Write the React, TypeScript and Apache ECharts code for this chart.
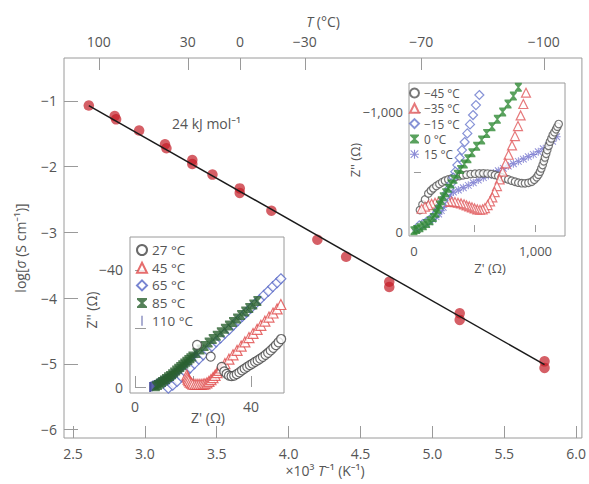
import React, { useEffect, useRef } from "react";
import * as echarts from "echarts";

// ---------- main Arrhenius plot ----------
const MAIN_X_TICKS = [2.5, 3.0, 3.5, 4.0, 4.5, 5.0, 5.5, 6.0];
const MAIN_Y_TICKS = [-6, -5, -4, -3, -2, -1];
const TOP_T = [100, 30, 0, -30, -70, -100];

const MAIN_X = [2.61, 2.79, 2.8, 2.96, 3.14, 3.15, 3.33, 3.33, 3.47, 3.66, 3.66, 3.88, 4.2, 4.4, 4.7, 4.7, 5.19, 5.19, 5.78, 5.78];
const MAIN_Y = [-1.07, -1.23, -1.28, -1.45, -1.66, -1.72, -1.9, -1.96, -2.12, -2.33, -2.4, -2.67, -3.11, -3.37, -3.75, -3.83, -4.23, -4.33, -4.96, -5.06];
const FIT_X = [2.61, 5.78];
const FIT_Y = [-1.07, -5.01];

// ---------- inset 1 (low temperatures), ohm ----------
const I1_X_TICKS = [0, 500, 1000];
const I1_X_LABELS = [0, 1000];
const I1_Y_TICKS = [0, -500, -1000];
const I1_Y_LABELS = [0, -1000];

const M45_X = [49, 70, 91, 118, 139, 159, 184, 209, 232, 255, 282, 310, 341, 373, 403, 433, 467, 502, 537, 571, 605, 639, 667, 694, 722, 749, 776, 804, 832, 859, 887, 914, 942, 969, 990, 1010, 1024, 1037, 1048, 1059, 1069, 1078, 1088, 1097, 1108, 1119, 1131, 1142, 1156, 1169, 1180, 1191];
const M45_Y = [-183, -230, -272, -322, -345, -364, -384, -400, -415, -428, -438, -447, -458, -467, -473, -478, -483, -486, -488, -489, -487, -483, -476, -467, -457, -447, -438, -428, -419, -411, -407, -406, -410, -419, -435, -456, -478, -503, -530, -558, -590, -622, -652, -683, -718, -753, -780, -808, -832, -856, -878, -900];

const M35_X = [922, 900, 878, 856, 831, 807, 779, 754, 730, 705, 683, 664, 645, 626, 606, 584, 565, 543, 521, 499, 477, 455, 433, 412, 387, 362, 337, 310, 283, 255, 228, 200, 173, 145, 118, 91, 63];
const M35_Y = [-1161, -1067, -972, -883, -800, -722, -644, -572, -503, -439, -383, -333, -289, -256, -225, -200, -189, -186, -189, -197, -206, -214, -222, -231, -239, -244, -250, -253, -256, -256, -253, -250, -244, -236, -225, -211, -194];

const M15_X = [538, 510, 486, 461, 439, 417, 395, 376, 357, 340, 324, 307, 291, 274, 258, 241, 225, 208, 192, 173, 151, 126, 99, 71, 44];
const M15_Y = [-1142, -1058, -975, -897, -822, -750, -683, -619, -558, -503, -453, -406, -364, -328, -294, -261, -228, -194, -167, -142, -119, -100, -81, -67, -56];

const Z0_X = [859, 818, 774, 730, 686, 642, 598, 557, 516, 477, 444, 414, 384, 357, 329, 305, 283, 261, 241, 225, 211, 198, 181, 159, 132, 104, 77, 49, 22, 0];
const Z0_Y = [-1206, -1133, -1067, -1000, -939, -878, -822, -767, -714, -661, -611, -567, -522, -481, -439, -400, -364, -328, -294, -261, -225, -189, -156, -122, -94, -72, -53, -36, -22, -11];

const P15_X = [1174, 1141, 1106, 1064, 1023, 982, 941, 900, 859, 818, 776, 735, 694, 653, 612, 571, 529, 488, 447, 406, 365, 324, 296, 274, 258, 241, 225, 203, 181, 154, 126, 99, 71, 44, 16];
const P15_Y = [-794, -756, -722, -694, -669, -647, -628, -608, -589, -569, -550, -531, -511, -492, -472, -453, -433, -411, -389, -369, -350, -333, -308, -272, -239, -206, -178, -150, -128, -106, -86, -67, -50, -33, -17];

// ---------- inset 2 (high temperatures), ohm ----------
const I2_X_TICKS = [0, 20, 40];
const I2_X_LABELS = [0, 40];
const I2_Y_TICKS = [0, -20, -40];
const I2_Y_LABELS = [0, -40];

const T27_X = [21.4, 26.1, 29.9, 30.8, 31.6, 32.4, 33.3, 34.2, 35.1, 36.0, 36.9, 37.8, 38.7, 39.6, 40.5, 41.4, 42.3, 43.2, 44.1, 45.0, 45.9, 46.8, 47.7, 48.6, 49.5, 50.4];
const T27_Y = [-14.4, -10.4, -6.9, -5.3, -4.5, -3.9, -3.7, -3.9, -4.4, -5.0, -5.7, -6.3, -6.9, -7.5, -8.0, -8.6, -9.1, -9.7, -10.3, -11.0, -11.7, -12.5, -13.4, -14.3, -15.3, -16.4];

const T45_X = [17.9, 18.1, 18.3, 18.6, 19.0, 19.5, 20.0, 20.7, 21.4, 22.1, 22.8, 23.5, 24.1, 24.8, 25.5, 26.2, 26.9, 27.6, 28.3, 29.0, 29.7, 31.0, 32.4, 33.8, 35.2, 36.6, 37.9, 39.3, 40.7, 42.1, 43.4, 44.8, 46.2, 47.6, 49.0, 50.3];
const T45_Y = [-4.1, -3.4, -2.7, -2.2, -1.7, -1.3, -1.0, -0.9, -0.9, -0.9, -0.9, -1.0, -1.1, -1.4, -1.9, -2.5, -3.2, -4.0, -4.9, -5.7, -6.5, -8.0, -9.5, -11.0, -12.5, -14.0, -15.4, -16.9, -18.3, -19.7, -21.1, -22.5, -23.9, -25.3, -26.7, -28.2];

const T65_X = [11.5, 13.0, 14.5, 16.0, 17.5, 19.0, 20.5, 22.0, 23.5, 25.0, 26.5, 28.0, 29.5, 31.0, 32.5, 34.0, 35.5, 37.0, 38.5, 40.0, 41.5, 43.0, 44.5, 46.0, 47.5, 49.0, 50.3];
const T65_Y = [0.4, -0.6, -1.9, -3.5, -5.0, -6.5, -8.0, -9.5, -11.0, -12.5, -13.9, -15.4, -16.8, -18.3, -19.7, -21.2, -22.7, -24.1, -25.6, -27.0, -28.5, -29.9, -31.4, -32.8, -34.3, -35.7, -37.0];

const T85_X = [7.2, 7.9, 8.6, 9.3, 10.0, 10.7, 11.4, 12.1, 12.8, 13.5, 14.2, 14.9, 15.6, 16.3, 17.0, 17.7, 18.4, 19.1, 19.8, 21.2, 22.6, 24.0, 25.4, 26.8, 28.2, 29.6, 31.0, 32.4, 33.8, 35.2, 36.6, 38.0, 39.4, 40.8, 42.2];
const T85_Y = [-0.3, -0.7, -1.2, -1.7, -2.2, -2.7, -3.3, -3.8, -4.4, -5.0, -5.6, -6.2, -6.8, -7.4, -8.0, -8.6, -9.2, -9.8, -10.4, -11.6, -12.8, -14.0, -15.2, -16.4, -17.5, -18.7, -19.9, -21.0, -22.2, -23.4, -24.6, -25.8, -27.0, -28.2, -29.4];

const T110_X = [5.2, 5.7, 6.3, 6.9, 7.5, 8.0, 8.6, 9.2, 9.8, 10.4, 11.0, 11.5, 12.1, 12.7, 13.3, 13.8, 14.4, 15.0, 15.6, 16.1, 16.7, 17.3, 17.9, 18.4, 19.0, 19.6, 20.2, 20.7, 21.3];
const T110_Y = [0.0, -0.2, -0.5, -0.7, -1.0, -1.3, -1.6, -1.9, -2.2, -2.5, -2.8, -3.1, -3.5, -3.9, -4.3, -4.7, -5.2, -5.6, -6.0, -6.4, -6.9, -7.4, -7.9, -8.4, -9.0, -9.5, -10.1, -10.7, -11.3];

// ---------- helpers ----------
const zip = (xs: number[], ys: number[]) => xs.map((x, i) => [x, ys[i]]);
const minus = (s: string) => s.replace("-", "\u2212");
const thousands = (v: number) =>
  v === 0 ? "0" : (v < 0 ? "\u2212" : "") + Math.abs(v).toLocaleString("en-US");

const FONT = "'Open Sans', 'Noto Sans', sans-serif";
const TXT = "#555";
const FRAME = "#9a9a9a";

const HOURGLASS = "path://M0,0L10,0L10,1.6L6.2,5L10,8.4L10,10L0,10L0,8.4L3.8,5L0,1.6Z";
const ASTERISK =
  "path://M4.4,0H5.6V10H4.4Z M0,4.4H10V5.6H0Z M1.2,0.4L9.6,8.8L8.8,9.6L0.4,1.2Z M8.8,0.4L9.6,1.2L1.2,9.6L0.4,8.8Z";
const BAR = "path://M0,0H1V10H0Z";

function buildOption() {
  const labelStyle = (size: number) => ({ color: TXT, fontSize: size, fontFamily: FONT });
  const hollow = (c: string) => ({ color: "#fff", borderColor: c, borderWidth: 1.2 });
  const italic = { i: { fontStyle: "italic", fontSize: 14, fill: TXT, fontFamily: FONT } };

  return {
    animation: false,
    backgroundColor: "#fff",
    textStyle: { fontFamily: FONT },
    grid: [
      { left: 64, top: 58, width: 519, height: 380, show: true, borderColor: FRAME, borderWidth: 1, backgroundColor: "transparent" },
      { left: 409, top: 83, width: 156, height: 153, show: true, borderColor: FRAME, borderWidth: 1, backgroundColor: "#fff" },
      { left: 130, top: 237, width: 154, height: 156, show: true, borderColor: FRAME, borderWidth: 1, backgroundColor: "#fff" },
    ],
    xAxis: [
      {
        type: "value", gridIndex: 0, position: "bottom", min: 2.4375, max: 6.04,
        axisLine: { show: false }, splitLine: { show: false },
        axisTick: { inside: true, length: 12, lineStyle: { color: FRAME }, customValues: MAIN_X_TICKS },
        axisLabel: { ...labelStyle(14), margin: 8, customValues: MAIN_X_TICKS, formatter: (v: number) => v.toFixed(1) },
      },
      {
        type: "value", gridIndex: 0, position: "top", min: 2.4375, max: 6.04,
        axisLine: { show: false }, splitLine: { show: false },
        axisTick: { inside: true, length: 12, lineStyle: { color: FRAME }, customValues: TOP_T.map((t) => 1000 / (t + 273.15)) },
        axisLabel: {
          ...labelStyle(14), margin: 10,
          customValues: TOP_T.map((t) => 1000 / (t + 273.15)),
          formatter: (v: number) => minus(String(Math.round(1000 / v - 273.15))),
        },
      },
      {
        type: "value", gridIndex: 1, min: -41, max: 1243,
        axisLine: { show: false }, splitLine: { show: false },
        axisTick: { inside: true, length: 7, lineStyle: { color: FRAME }, customValues: I1_X_TICKS },
        axisLabel: { ...labelStyle(13), margin: 8, customValues: I1_X_LABELS, formatter: thousands },
      },
      {
        type: "value", gridIndex: 2, min: -1.72, max: 51.38,
        axisLine: { show: false }, splitLine: { show: false },
        axisTick: { inside: true, length: 11, lineStyle: { color: FRAME }, customValues: I2_X_TICKS },
        axisLabel: { ...labelStyle(14), margin: 6, customValues: I2_X_LABELS, formatter: thousands },
      },
    ],
    yAxis: [
      {
        type: "value", gridIndex: 0, min: -6.126, max: -0.347,
        axisLine: { show: false }, splitLine: { show: false },
        axisTick: { inside: true, length: 14, lineStyle: { color: FRAME }, customValues: MAIN_Y_TICKS },
        axisLabel: { ...labelStyle(14), margin: 7, customValues: MAIN_Y_TICKS, formatter: (v: number) => minus(String(v)) },
      },
      {
        type: "value", gridIndex: 1, inverse: true, min: -1242, max: 33,
        axisLine: { show: false }, splitLine: { show: false },
        axisTick: { inside: true, length: 7, lineStyle: { color: FRAME }, customValues: I1_Y_TICKS },
        axisLabel: { ...labelStyle(13), margin: 6, customValues: I1_Y_LABELS, formatter: thousands },
      },
      {
        type: "value", gridIndex: 2, inverse: true, min: -51.28, max: 2.05,
        axisLine: { show: false }, splitLine: { show: false },
        axisTick: { inside: true, length: 11, lineStyle: { color: FRAME }, customValues: I2_Y_TICKS },
        axisLabel: { ...labelStyle(14), margin: 7, customValues: I2_Y_LABELS, formatter: thousands },
      },
    ],
    legend: [
      {
        left: 409, top: 87, orient: "vertical", padding: 0, itemGap: 3.3, itemWidth: 9, itemHeight: 9,
        textStyle: { color: TXT, fontSize: 11.8, fontFamily: FONT, lineHeight: 11 },
        data: ["\u221245 \u00b0C", "\u221235 \u00b0C", "\u221215 \u00b0C", "0 \u00b0C", "15 \u00b0C"],
      },
      {
        left: 136, top: 243, orient: "vertical", padding: 0, itemGap: 3.7, itemWidth: 10, itemHeight: 10,
        textStyle: { color: TXT, fontSize: 13.5, fontFamily: FONT, lineHeight: 13 },
        data: ["27 \u00b0C", "45 \u00b0C", "65 \u00b0C", "85 \u00b0C", "110 \u00b0C"],
      },
    ],
    series: [
      // main
      {
        type: "scatter", xAxisIndex: 0, yAxisIndex: 0, symbolSize: 10.5,
        itemStyle: { color: "rgba(196,28,38,0.88)" }, data: zip(MAIN_X, MAIN_Y), z: 2,
      },
      {
        type: "line", xAxisIndex: 0, yAxisIndex: 0, showSymbol: false, symbol: "none",
        lineStyle: { color: "#1a1a1a", width: 1.5 }, data: zip(FIT_X, FIT_Y), z: 3,
      },
      // inset 1
      {
        name: "15 \u00b0C", type: "scatter", xAxisIndex: 2, yAxisIndex: 1, symbol: ASTERISK, symbolSize: 8,
        itemStyle: { color: "#7070cc" }, data: zip(P15_X, P15_Y),
      },
      {
        name: "\u221245 \u00b0C", type: "scatter", xAxisIndex: 2, yAxisIndex: 1, symbol: "circle", symbolSize: 7.5,
        itemStyle: hollow("#555"), data: zip(M45_X, M45_Y),
      },
      {
        name: "\u221235 \u00b0C", type: "scatter", xAxisIndex: 2, yAxisIndex: 1, symbol: "triangle", symbolSize: 9,
        itemStyle: hollow("#e0575a"), data: zip(M35_X, M35_Y),
      },
      {
        name: "\u221215 \u00b0C", type: "scatter", xAxisIndex: 2, yAxisIndex: 1, symbol: "diamond", symbolSize: 9,
        itemStyle: hollow("#6877cc"), data: zip(M15_X, M15_Y),
      },
      {
        name: "0 \u00b0C", type: "scatter", xAxisIndex: 2, yAxisIndex: 1, symbol: HOURGLASS, symbolSize: [7, 9],
        itemStyle: { color: "#2f8a35" }, data: zip(Z0_X, Z0_Y),
      },
      // inset 2
      {
        name: "110 \u00b0C", type: "scatter", xAxisIndex: 3, yAxisIndex: 2, symbol: BAR, symbolSize: [2, 10],
        itemStyle: { color: "#2d3590" }, data: zip(T110_X, T110_Y),
      },
      {
        name: "65 \u00b0C", type: "scatter", xAxisIndex: 3, yAxisIndex: 2, symbol: "diamond", symbolSize: 10,
        itemStyle: hollow("#5565c5"), data: zip(T65_X, T65_Y),
      },
      {
        name: "85 \u00b0C", type: "scatter", xAxisIndex: 3, yAxisIndex: 2, symbol: HOURGLASS, symbolSize: [8, 10],
        itemStyle: { color: "#2a6130" }, data: zip(T85_X, T85_Y),
      },
      {
        name: "45 \u00b0C", type: "scatter", xAxisIndex: 3, yAxisIndex: 2, symbol: "triangle", symbolSize: 10,
        itemStyle: hollow("#e04848"), data: zip(T45_X, T45_Y),
      },
      {
        name: "27 \u00b0C", type: "scatter", xAxisIndex: 3, yAxisIndex: 2, symbol: "circle", symbolSize: 9,
        itemStyle: hollow("#444"), data: zip(T27_X, T27_Y),
      },
    ],
    graphic: [
      {
        type: "text", x: 323, y: 21,
        style: {
          text: "{i|T} (\u00b0C)", fill: TXT, font: `14px ${FONT}`, align: "center", verticalAlign: "middle", rich: italic,
        },
      },
      {
        type: "text", x: 325, y: 470,
        style: {
          text: "\u00d710\u00b3 {i|T}\u207b\u00b9 (K\u207b\u00b9)", fill: TXT, font: `14px ${FONT}`, align: "center", verticalAlign: "middle", rich: italic,
        },
      },
      {
        type: "text", x: 20, y: 248, rotation: Math.PI / 2,
        style: {
          text: "log[{i|\u03c3} (S cm\u207b\u00b9)]", fill: TXT, font: `14px ${FONT}`, align: "center", verticalAlign: "middle", rich: italic,
        },
      },
      {
        type: "text", x: 172, y: 123,
        style: { text: "24 kJ mol\u207b\u00b9", fill: TXT, font: `14px ${FONT}`, align: "left", verticalAlign: "middle" },
      },
      {
        type: "text", x: 355, y: 160, rotation: Math.PI / 2,
        style: { text: "Z'' (\u03a9)", fill: TXT, font: `13px ${FONT}`, align: "center", verticalAlign: "middle" },
      },
      {
        type: "text", x: 490, y: 268,
        style: { text: "Z' (\u03a9)", fill: TXT, font: `13px ${FONT}`, align: "center", verticalAlign: "middle" },
      },
      {
        type: "text", x: 91, y: 310, rotation: Math.PI / 2,
        style: { text: "Z'' (\u03a9)", fill: TXT, font: `14px ${FONT}`, align: "center", verticalAlign: "middle" },
      },
      {
        type: "text", x: 208, y: 417,
        style: { text: "Z' (\u03a9)", fill: TXT, font: `14px ${FONT}`, align: "center", verticalAlign: "middle" },
      },
    ],
  };
}

export default function App() {
  const ref = useRef<HTMLDivElement>(null);
  useEffect(() => {
    document.body.style.margin = "0";
    const chart = echarts.init(ref.current as HTMLDivElement, null, { renderer: "svg" });
    chart.setOption(buildOption() as any);
    return () => chart.dispose();
  }, []);
  return <div ref={ref} style={{ width: 589, height: 484 }} />;
}
